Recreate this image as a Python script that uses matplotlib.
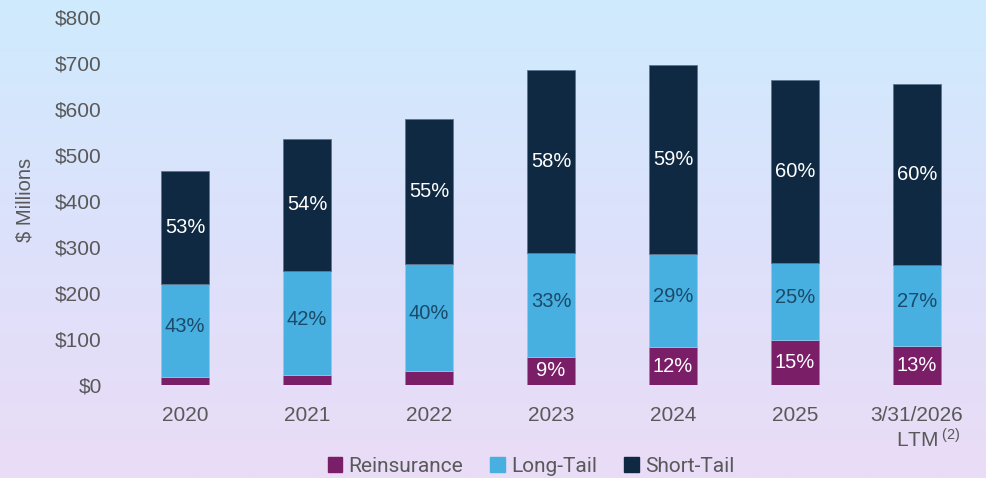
import matplotlib

matplotlib.use("Agg")

import matplotlib.pyplot as plt
import numpy as np
from matplotlib.colors import LinearSegmentedColormap
from matplotlib.patches import Patch

# values ($ millions)
periods = ["2020", "2021", "2022", "2023", "2024", "2025", "3/31/2026\nLTM"]
reinsurance = [18, 22, 30, 61, 82, 98, 85]
long_tail = [202, 226, 233, 226, 203, 167, 176]
short_tail = [245, 287, 315, 398, 411, 398, 393]

reins_pct = ["", "", "", "9%", "12%", "15%", "13%"]
long_pct = ["43%", "42%", "40%", "33%", "29%", "25%", "27%"]
short_pct = ["53%", "54%", "55%", "58%", "59%", "60%", "60%"]

y_ticks = [0, 100, 200, 300, 400, 500, 600, 700, 800]

C_REINS = "#7a1e68"
C_LONG = "#47b0e0"
C_SHORT = "#0f2942"
GREY = "#595959"

plt.rcParams["font.family"] = ["Liberation Sans", "DejaVu Sans"]
plt.rcParams["mathtext.default"] = "regular"

fig = plt.figure(figsize=(9.87, 4.78), dpi=100)

# soft blue -> lavender backdrop across the whole slide
bg = fig.add_axes([0, 0, 1, 1], zorder=-10)
grad = LinearSegmentedColormap.from_list("bg", ["#cfebfd", "#dde1fb", "#eadcf6"])
bg.imshow(np.linspace(0, 1, 256).reshape(-1, 1), cmap=grad, aspect="auto",
          extent=(0, 1, 0, 1))
bg.axis("off")

ax = fig.add_axes([124 / 987, 93 / 478, 854 / 987, 368 / 478])
ax.patch.set_alpha(0)

x = np.arange(len(periods))
w = 0.39
r = np.array(reinsurance)
lt = np.array(long_tail)
st = np.array(short_tail)

ax.bar(x, r, w, color=C_REINS, edgecolor="#a97aa5", linewidth=0.6, label="Reinsurance")
ax.bar(x, lt, w, bottom=r, color=C_LONG, edgecolor="#8fc9ea", linewidth=0.6, label="Long-Tail")
ax.bar(x, st, w, bottom=r + lt, color=C_SHORT, edgecolor="#5d7590", linewidth=0.6, label="Short-Tail")

for i in x:
    if reins_pct[i]:
        ax.text(i, r[i] / 2, reins_pct[i], ha="center", va="center",
                color="white", fontsize=14.5)
    ax.text(i, r[i] + lt[i] / 2 + 8, long_pct[i], ha="center", va="center",
            color="#1b4a6b", fontsize=14.5)
    ax.text(i, r[i] + lt[i] + st[i] / 2, short_pct[i], ha="center", va="center",
            color="white", fontsize=14.5)

# last label gets a "(2)" footnote as superscript; blank space of about the
# same width on the left keeps "LTM" itself centred under the date
tick_labels = list(periods)
first, second = tick_labels[-1].split("\n")
tick_labels[-1] = f"{first}\n$\\hspace{{1.15}}${second}$\\,^{{(2)}}$"

ax.set_xlim(-0.5, len(periods) - 0.5)
ax.set_ylim(0, 800)
ax.set_yticks(y_ticks)
ax.set_yticklabels([f"${v}" for v in y_ticks])
ax.set_xticks(x)
ax.set_xticklabels(tick_labels)
ax.tick_params(axis="y", length=0, pad=16, labelsize=15, labelcolor=GREY)
ax.tick_params(axis="x", length=0, pad=15, labelsize=15, labelcolor=GREY)
for s in ax.spines.values():
    s.set_visible(False)

fig.text(25 / 987, 1 - 200 / 478, "$ Millions", rotation=90, ha="center",
         va="center", fontsize=14.5, color=GREY)

handles = [Patch(color=C_REINS), Patch(color=C_LONG), Patch(color=C_SHORT)]
fig.legend(handles, ["Reinsurance", "Long-Tail", "Short-Tail"], loc="center",
           bbox_to_anchor=(531 / 987, 1 - 466 / 478), ncol=3, frameon=False,
           handlelength=0.7, handleheight=0.7, handletextpad=0.3,
           columnspacing=1.3, prop={"family": "Roboto", "size": 15},
           labelcolor=GREY)

fig.savefig("out.png", dpi=100)
